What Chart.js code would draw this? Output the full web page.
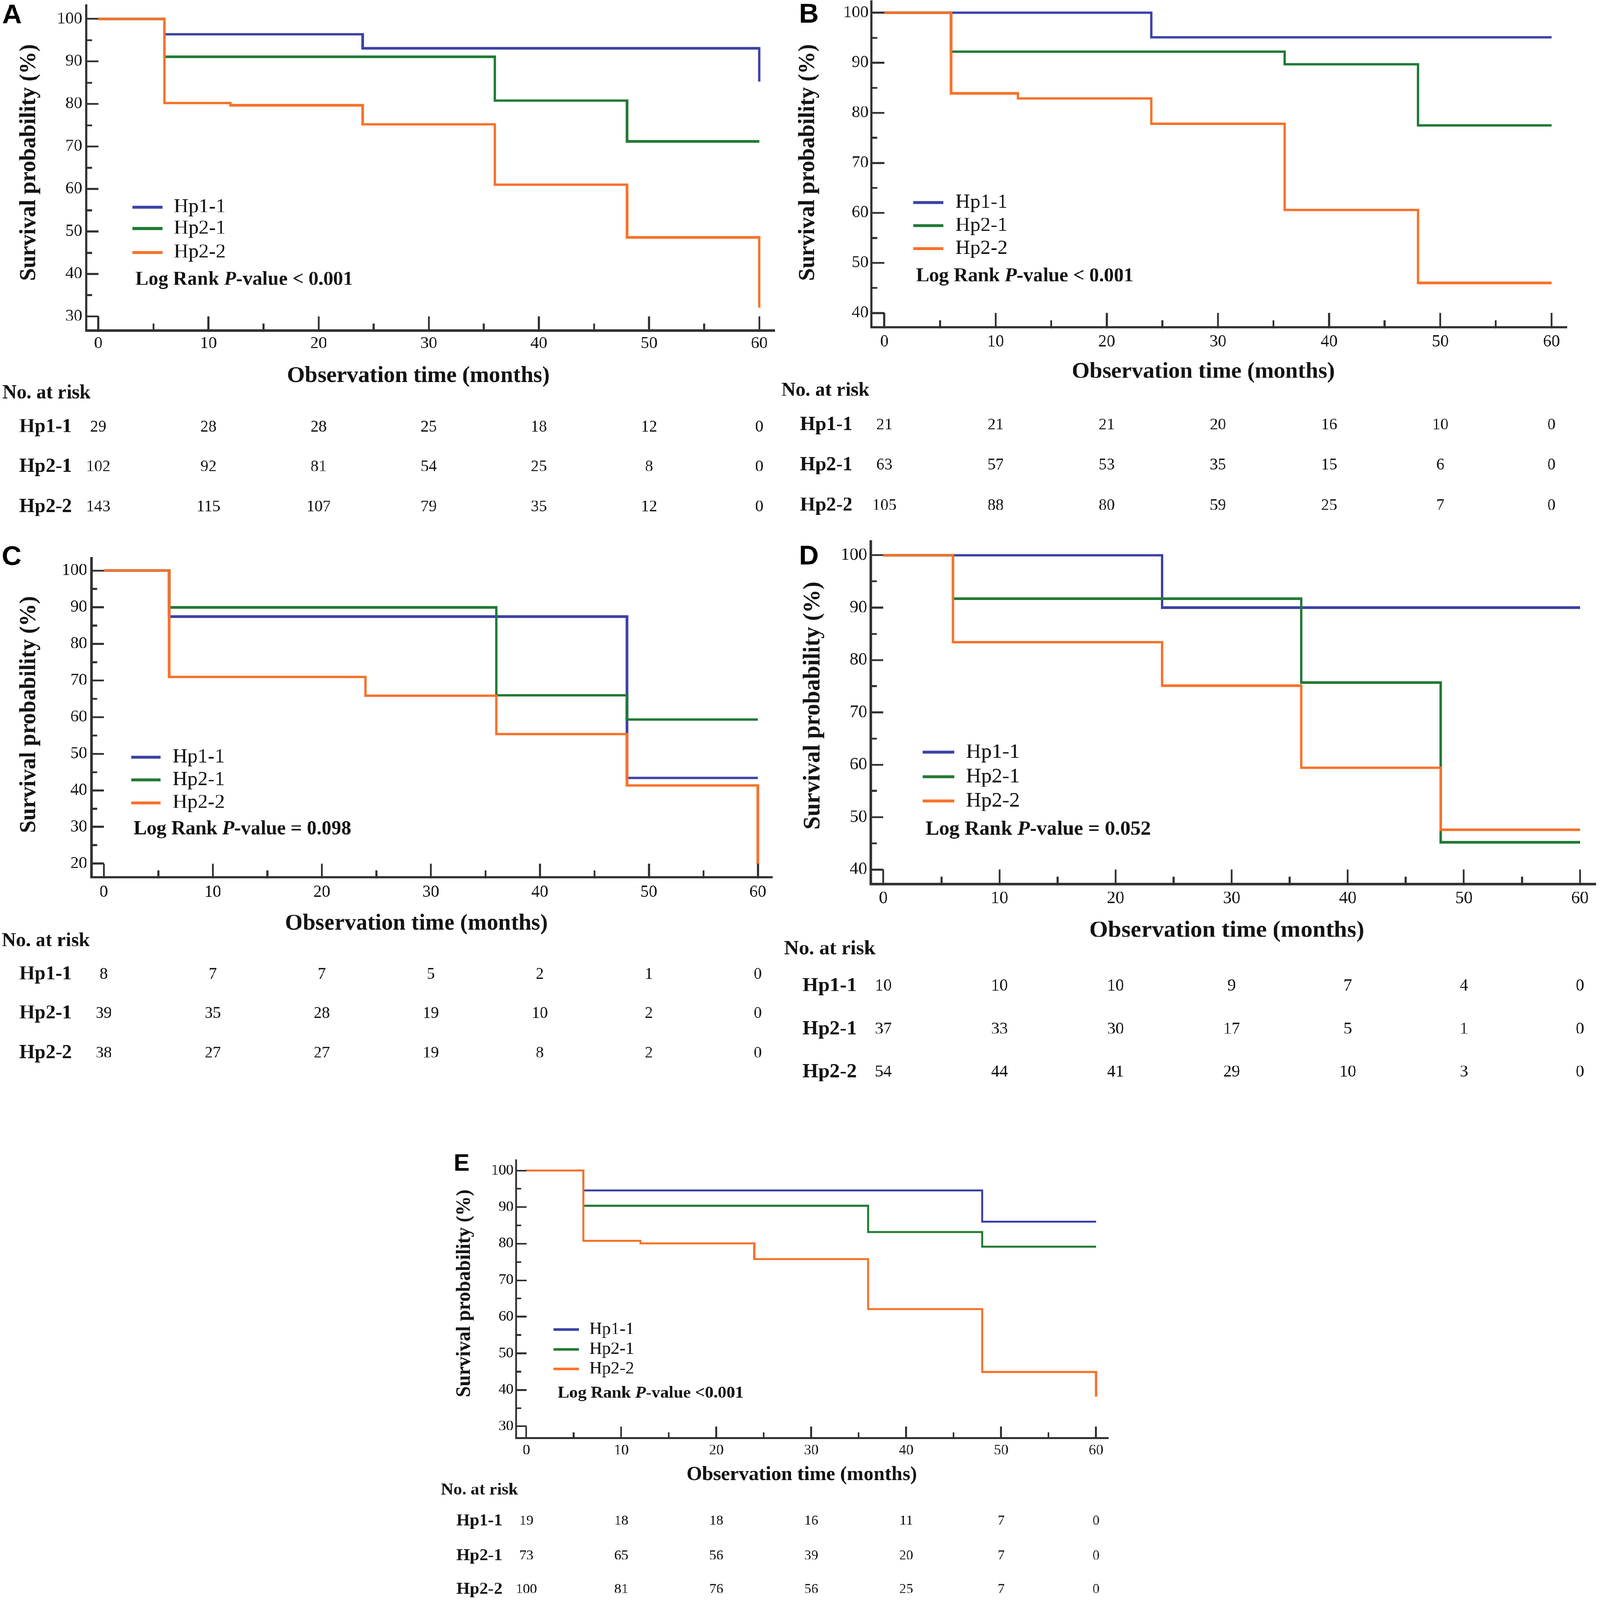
<!DOCTYPE html>
<html>
<head>
<meta charset="utf-8">
<title>Kaplan-Meier survival by Hp phenotype</title>
<script src="https://cdn.jsdelivr.net/npm/chart.js@4.4.1/dist/chart.umd.min.js"></script>
<style>
  html, body { margin: 0; padding: 0; background: #fff; overflow: hidden; }
  body { width: 100vw; height: 100vh; position: relative; }
  #page { position: absolute; left: 0; top: 0; width: 4550px; height: 4628px; transform-origin: 0 0; }
  canvas { position: absolute; }
</style>
</head>
<body>
<div id="page">
<canvas id="chartA"></canvas>
<canvas id="chartB"></canvas>
<canvas id="chartC"></canvas>
<canvas id="chartD"></canvas>
<canvas id="chartE"></canvas>
</div>
<script>
// ---- data ----
const groups = ['Hp1-1', 'Hp2-1', 'Hp2-2'];
const groupColors = ['#3c42a5', '#217a35', '#f7722a'];

// months where the curves may step down
const stepMonths = [0, 6, 12, 24, 36, 48, 60];
// months of the numbers-at-risk columns
const riskMonths = [0, 10, 20, 30, 40, 50, 60];
const xTickMonths = [0, 5, 10, 15, 20, 25, 30, 35, 40, 45, 50, 55, 60];

// A
const survA_Hp11 = [100, 96.4, 96.4, 93.1, 93.1, 93.1, 85.3];
const survA_Hp21 = [100, 91.1, 91.1, 91.1, 80.8, 71.2, 71.2];
const survA_Hp22 = [100, 80.2, 79.7, 75.2, 61.0, 48.6, 32.1];
const riskA_Hp11 = [29, 28, 28, 25, 18, 12, 0];
const riskA_Hp21 = [102, 92, 81, 54, 25, 8, 0];
const riskA_Hp22 = [143, 115, 107, 79, 35, 12, 0];
const yTicksA = [30, 35, 40, 45, 50, 55, 60, 65, 70, 75, 80, 85, 90, 95, 100];

// B
const survB_Hp11 = [100, 100, 100, 95.1, 95.1, 95.1, 95.1];
const survB_Hp21 = [100, 92.2, 92.2, 92.2, 89.7, 77.5, 77.5];
const survB_Hp22 = [100, 83.9, 82.9, 77.8, 60.6, 46.0, 46.0];
const riskB_Hp11 = [21, 21, 21, 20, 16, 10, 0];
const riskB_Hp21 = [63, 57, 53, 35, 15, 6, 0];
const riskB_Hp22 = [105, 88, 80, 59, 25, 7, 0];
const yTicksB = [40, 45, 50, 55, 60, 65, 70, 75, 80, 85, 90, 95, 100];

// C
const survC_Hp11 = [100, 87.4, 87.4, 87.4, 87.4, 43.4, 43.4];
const survC_Hp21 = [100, 89.9, 89.9, 89.9, 65.9, 59.3, 59.3];
const survC_Hp22 = [100, 70.9, 70.9, 65.8, 55.3, 41.3, 20.0];
const riskC_Hp11 = [8, 7, 7, 5, 2, 1, 0];
const riskC_Hp21 = [39, 35, 28, 19, 10, 2, 0];
const riskC_Hp22 = [38, 27, 27, 19, 8, 2, 0];
const yTicksC = [20, 25, 30, 35, 40, 45, 50, 55, 60, 65, 70, 75, 80, 85, 90, 95, 100];

// D
const survD_Hp11 = [100, 100, 100, 90.0, 90.0, 90.0, 90.0];
const survD_Hp21 = [100, 91.7, 91.7, 91.7, 75.7, 45.2, 45.2];
const survD_Hp22 = [100, 83.4, 83.4, 75.1, 59.4, 47.6, 47.6];
const riskD_Hp11 = [10, 10, 10, 9, 7, 4, 0];
const riskD_Hp21 = [37, 33, 30, 17, 5, 1, 0];
const riskD_Hp22 = [54, 44, 41, 29, 10, 3, 0];
const yTicksD = [40, 45, 50, 55, 60, 65, 70, 75, 80, 85, 90, 95, 100];

// E
const survE_Hp11 = [100, 94.6, 94.6, 94.6, 94.6, 86.0, 86.0];
const survE_Hp21 = [100, 90.4, 90.4, 90.4, 83.2, 79.2, 79.2];
const survE_Hp22 = [100, 80.8, 80.1, 75.8, 62.1, 44.9, 38.2];
const riskE_Hp11 = [19, 18, 18, 16, 11, 7, 0];
const riskE_Hp21 = [73, 65, 56, 39, 20, 7, 0];
const riskE_Hp22 = [100, 81, 76, 56, 25, 7, 0];
const yTicksE = [30, 35, 40, 45, 50, 55, 60, 65, 70, 75, 80, 85, 90, 95, 100];

// ---- styling ----
const SERIF = '"Liberation Serif", "Times New Roman", Times, serif';
const SANS = '"Liberation Sans", Arial, Helvetica, sans-serif';
const INK = '#141414';
const AXIS = '#303030';

const bigFonts = { tick: 48, num: 46, title: 65, head: 56, legend: 58, p: 56, letter: 78 };

// page layout of each panel (page pixels)
const panels = [
  { id: 'chartA', letter: 'A', box: [0, 0, 2240, 1530], area: [245, 15, 2203, 956],
    xRange: [-1.1, 61.4], yRange: [26.7, 103.25], yTicks: yTicksA,
    series: [survA_Hp11, survA_Hp21, survA_Hp22], risk: [riskA_Hp11, riskA_Hp21, riskA_Hp22],
    yTick: 35, xTick: 41, minor: 20, xLabelGap: 38, yLabelGap: 11,
    lineWidth: 7, axisWidth: 6.5, tickWidth: 5.5, legendLineWidth: 8.5, fonts: bigFonts,
    letterPos: [6, 68], legendY: [599, 661, 730], legendLine: [377, 462], legendTextX: 494,
    pPos: [385, 810], pText: '< 0.001', xTitle: [1190, 1088], yTitle: [83, 470],
    head: [7, 1138], rowsY: [1236, 1351, 1467], rowLabelX: 55 },
  { id: 'chartB', letter: 'B', box: [2210, 0, 2340, 1530], area: [2478, 4, 4456, 946],
    xRange: [-1.17, 61.39], yRange: [37.17, 102.28], yTicks: yTicksB,
    series: [survB_Hp11, survB_Hp21, survB_Hp22], risk: [riskB_Hp11, riskB_Hp21, riskB_Hp22],
    yTick: 37, xTick: 41, minor: 20, xLabelGap: 43, yLabelGap: 8,
    lineWidth: 7, axisWidth: 6.5, tickWidth: 5.5, legendLineWidth: 8.5, fonts: bigFonts,
    letterPos: [2272, 65], legendY: [586, 653, 719], legendLine: [2597, 2683], legendTextX: 2717,
    pPos: [2605, 800], pText: '< 0.001', xTitle: [3422, 1076], yTitle: [2298, 470],
    head: [2222, 1131], rowsY: [1230, 1346, 1463], rowLabelX: 2275 },
  { id: 'chartC', letter: 'C', box: [0, 1545, 2240, 1590], area: [260, 1614, 2196, 2537],
    xRange: [-1.13, 61.32], yRange: [16.32, 103.4], yTicks: yTicksC,
    series: [survC_Hp11, survC_Hp21, survC_Hp22], risk: [riskC_Hp11, riskC_Hp21, riskC_Hp22],
    yTick: 35, xTick: 39, minor: 20, xLabelGap: 44, yLabelGap: 12,
    lineWidth: 7, axisWidth: 6.5, tickWidth: 5.5, legendLineWidth: 8.5, fonts: bigFonts,
    letterPos: [5, 1634], legendY: [2190, 2256, 2322], legendLine: [373, 456], legendTextX: 491,
    pPos: [380, 2399], pText: '= 0.098', xTitle: [1184, 2672], yTitle: [83, 2067],
    head: [5, 2723], rowsY: [2819, 2932, 3047], rowLabelX: 55 },
  { id: 'chartD', letter: 'D', box: [2210, 1545, 2340, 1600], area: [2476, 1566, 4538, 2557],
    xRange: [-1.09, 61.36], yRange: [37.23, 102.64], yTicks: yTicksD,
    series: [survD_Hp11, survD_Hp21, survD_Hp22], risk: [riskD_Hp11, riskD_Hp21, riskD_Hp22],
    yTick: 36, xTick: 42, minor: 21, xLabelGap: 42, yLabelGap: 10,
    lineWidth: 7, axisWidth: 6.5, tickWidth: 5.5, legendLineWidth: 8.5,
    fonts: { tick: 50, num: 48, title: 68, head: 58, legend: 60, p: 58, letter: 78 },
    letterPos: [2272, 1633], legendY: [2176, 2247, 2317], legendLine: [2624, 2714], legendTextX: 2747,
    pPos: [2632, 2399], pText: '= 0.052', xTitle: [3489, 2692], yTitle: [2312, 2041],
    head: [2230, 2745], rowsY: [2852, 2977, 3101], rowLabelX: 2282 },
  { id: 'chartE', letter: 'E', box: [1230, 3300, 1960, 1328], area: [1468, 3356, 3152, 4160],
    xRange: [-1.07, 61.3], yRange: [26.78, 102.84], yTicks: yTicksE,
    series: [survE_Hp11, survE_Hp21, survE_Hp22], risk: [riskE_Hp11, riskE_Hp21, riskE_Hp22],
    yTick: 29, xTick: 34, minor: 17, xLabelGap: 36, yLabelGap: 8,
    lineWidth: 6, axisWidth: 5.5, tickWidth: 5, legendLineWidth: 7.5,
    fonts: { tick: 42, num: 40, title: 57, head: 49, legend: 50, p: 49, letter: 68 },
    letterPos: [1290, 3386], legendY: [3846, 3903, 3960], legendLine: [1574, 1646], legendTextX: 1676,
    pPos: [1586, 4030], pText: '<0.001', xTitle: [2280, 4266], yTitle: [1321, 3741],
    head: [1254, 4310], rowsY: [4399, 4500, 4597], rowLabelX: 1298 }
];

// letter, titles, legend, log-rank note and numbers at risk
const kmDecor = {
  id: 'kmDecor',
  afterDraw(chart, args, opts) {
    const p = opts.panel;
    if (!p) return;
    const ctx = chart.ctx;
    const ox = p.box[0], oy = p.box[1];
    const f = p.fonts;
    ctx.save();

    ctx.fillStyle = '#000';
    ctx.textAlign = 'left';
    ctx.textBaseline = 'alphabetic';
    ctx.font = `bold ${f.letter}px ${SANS}`;
    ctx.fillText(p.letter, p.letterPos[0] - ox, p.letterPos[1] - oy);

    ctx.fillStyle = INK;
    ctx.textBaseline = 'middle';
    ctx.textAlign = 'center';
    ctx.font = `bold ${f.title}px ${SERIF}`;
    ctx.fillText('Observation time (months)', p.xTitle[0] - ox, p.xTitle[1] - oy);
    ctx.save();
    ctx.translate(p.yTitle[0] - ox, p.yTitle[1] - oy);
    ctx.rotate(-Math.PI / 2);
    ctx.fillText('Survival probability (%)', 0, 0);
    ctx.restore();

    // legend
    ctx.textAlign = 'left';
    ctx.font = `${f.legend}px ${SERIF}`;
    chart.data.datasets.forEach((ds, i) => {
      const ly = p.legendY[i] - oy;
      ctx.strokeStyle = ds.borderColor;
      ctx.lineWidth = p.legendLineWidth;
      ctx.beginPath();
      ctx.moveTo(p.legendLine[0] - ox, ly);
      ctx.lineTo(p.legendLine[1] - ox, ly);
      ctx.stroke();
      ctx.fillText(ds.label, p.legendTextX - ox, ly);
    });

    // log rank note, P in italics
    let px = p.pPos[0] - ox;
    const py = p.pPos[1] - oy;
    [['Log Rank ', 'bold'], ['P', 'italic bold'], ['-value ' + p.pText, 'bold']].forEach(([txt, style]) => {
      ctx.font = `${style} ${f.p}px ${SERIF}`;
      ctx.fillText(txt, px, py);
      px += ctx.measureText(txt).width;
    });

    // numbers at risk, columns on the x scale
    const xs = chart.scales.x;
    ctx.font = `bold ${f.head}px ${SERIF}`;
    ctx.fillText('No. at risk', p.head[0] - ox, p.head[1] - oy);
    p.risk.forEach((row, i) => {
      const ry = p.rowsY[i] - oy;
      ctx.textAlign = 'left';
      ctx.font = `bold ${f.head}px ${SERIF}`;
      ctx.fillText(groups[i], p.rowLabelX - ox, ry);
      ctx.textAlign = 'center';
      ctx.font = `${f.num}px ${SERIF}`;
      row.forEach((n, j) => ctx.fillText(String(n), xs.getPixelForValue(riskMonths[j]), ry));
    });

    ctx.restore();
  }
};

function buildPanel(p) {
  const cv = document.getElementById(p.id);
  const [bx, by, bw, bh] = p.box;
  const [al, at, ar, ab] = p.area;
  cv.width = bw;
  cv.height = bh;
  Object.assign(cv.style, { left: bx + 'px', top: by + 'px', width: bw + 'px', height: bh + 'px' });

  const xAxisH = 100;
  const half = p.axisWidth / 2;
  const tickFont = { family: SERIF, size: p.fonts.tick, lineHeight: 1 };
  const isMinor = c => c.tick && c.tick.value % 10 !== 0;

  return new Chart(cv, {
    type: 'line',
    data: {
      datasets: p.series.map((vals, i) => ({
        label: groups[i],
        data: stepMonths.map((m, j) => ({ x: m, y: vals[j] })),
        borderColor: groupColors[i],
        backgroundColor: groupColors[i],
        borderWidth: p.lineWidth,
        pointRadius: 0,
        stepped: true,
        fill: false,
        order: 3 - i
      }))
    },
    options: {
      responsive: false,
      animation: false,
      devicePixelRatio: 1,
      layout: { padding: { left: 0, top: at - by, right: bx + bw - ar, bottom: by + bh - ab - xAxisH } },
      plugins: { legend: { display: false }, tooltip: { enabled: false }, kmDecor: { panel: p } },
      scales: {
        x: {
          type: 'linear',
          min: p.xRange[0],
          max: p.xRange[1],
          afterBuildTicks: s => { s.ticks = xTickMonths.map(v => ({ value: v })); },
          afterFit: s => { s.height = xAxisH; s.paddingLeft = 0; s.paddingRight = 0; },
          border: { display: true, color: AXIS, width: p.axisWidth },
          grid: {
            drawOnChartArea: false,
            tickLength: -p.xTick,
            tickWidth: p.tickWidth,
            tickColor: AXIS,
            tickBorderDash: c => isMinor(c) ? [p.minor + half, 1000] : []
          },
          ticks: {
            autoSkip: false,
            maxRotation: 0,
            padding: p.xTick + p.xLabelGap - p.fonts.tick / 2,
            font: tickFont,
            color: INK,
            callback: v => (v % 10 === 0 ? String(v) : '')
          }
        },
        y: {
          type: 'linear',
          min: p.yRange[0],
          max: p.yRange[1],
          afterBuildTicks: s => { s.ticks = p.yTicks.map(v => ({ value: v })); },
          afterFit: s => { s.width = al - bx; s.paddingTop = 0; s.paddingBottom = 0; },
          border: { display: true, color: AXIS, width: p.axisWidth },
          grid: {
            drawOnChartArea: false,
            tickLength: -p.yTick,
            tickWidth: p.tickWidth,
            tickColor: AXIS,
            tickBorderDash: c => isMinor(c) ? [0, p.yTick + half - p.minor, p.minor, 1000] : []
          },
          ticks: {
            autoSkip: false,
            padding: p.yTick + p.yLabelGap,
            font: tickFont,
            color: INK,
            callback: v => (v % 10 === 0 ? String(v) : '')
          }
        }
      }
    },
    plugins: [kmDecor]
  });
}

// the sheet is laid out at 4550x4628; stretch it over the real viewport
function fitPage() {
  const sx = window.innerWidth / 4550;
  const sy = window.innerHeight / 4628;
  document.getElementById('page').style.transform = `scale(${sx}, ${sy})`;
}

panels.forEach(buildPanel);
fitPage();
</script>
</body>
</html>
